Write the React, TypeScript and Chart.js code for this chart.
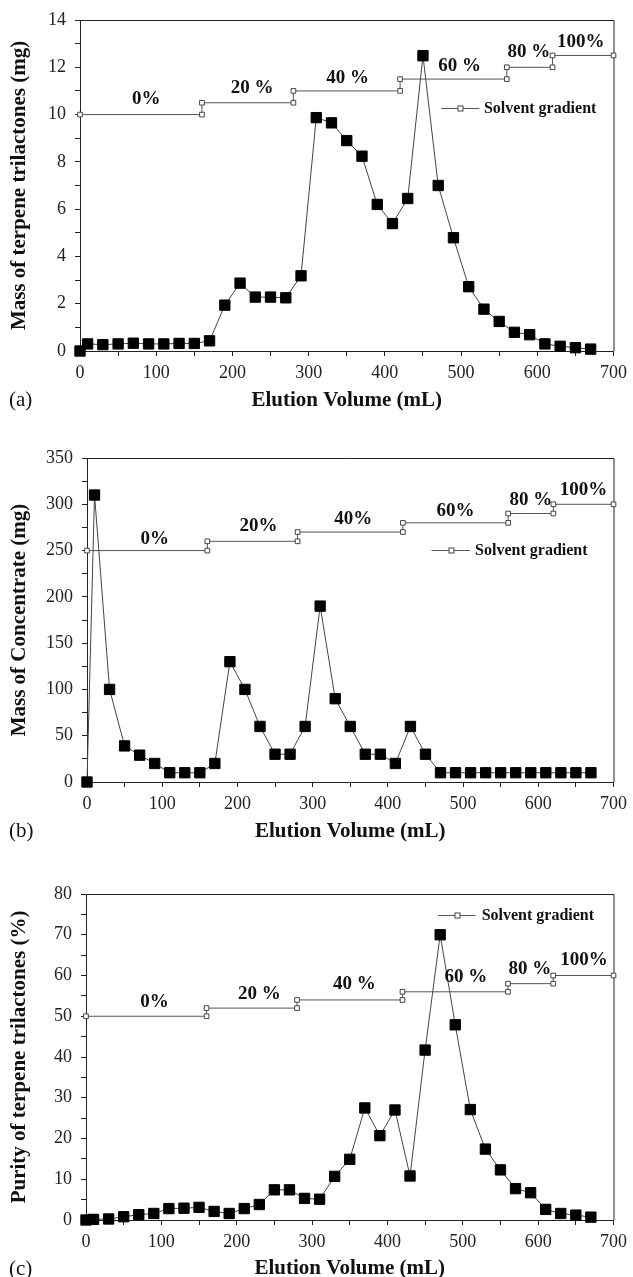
import React, { useEffect, useRef } from "react";
import { Chart, registerables } from "chart.js";

Chart.register(...registerables);

// ---------- data ----------
const volumes = [0, 10, 30, 50, 70, 90, 110, 130, 150, 170, 190, 210, 230, 250, 270, 290, 310, 330, 350, 370, 390, 410, 430, 450, 470, 490, 510, 530, 550, 570, 590, 610, 630, 650, 670];

const massTerpene = [0, 0.3, 0.27, 0.3, 0.33, 0.3, 0.3, 0.32, 0.32, 0.43, 1.94, 2.87, 2.28, 2.28, 2.25, 3.18, 9.87, 9.65, 8.9, 8.24, 6.2, 5.39, 6.45, 12.49, 7.0, 4.79, 2.72, 1.77, 1.25, 0.79, 0.69, 0.3, 0.2, 0.14, 0.08];

const massConcentrate = [0, 310, 100, 39, 29, 20, 10, 10, 10, 20, 130, 100, 60, 30, 30, 60, 190, 90, 60, 30, 30, 20, 60, 30, 10, 10, 10, 10, 10, 10, 10, 10, 10, 10, 10];

const purity = [0, 0.15, 0.25, 0.8, 1.3, 1.6, 2.8, 2.9, 3.1, 2.1, 1.6, 2.8, 3.8, 7.4, 7.4, 5.3, 5.1, 10.7, 14.9, 27.5, 20.7, 27.0, 10.8, 41.7, 70, 47.9, 27.1, 17.4, 12.3, 7.7, 6.7, 2.6, 1.6, 1.2, 0.7];

const gradientVolumes = [0, 160, 160, 280, 280, 420, 420, 560, 560, 620, 620, 700];
const gradientA = [10, 10, 10.5, 10.5, 11, 11, 11.5, 11.5, 12, 12, 12.5, 12.5];
const gradientB = [250, 250, 260, 260, 270, 270, 280, 280, 290, 290, 300, 300];
const gradientC = [50, 50, 52, 52, 54, 54, 56, 56, 58, 58, 60, 60];

const gradientLabelsA = ["0%", "20 %", "40 %", "60 %", "80 %", "100%"];
const gradientLabelsB = ["0%", "20%", "40%", "60%", "80 %", "100%"];
const gradientLabelsC = ["0%", "20 %", "40 %", "60 %", "80 %", "100%"];

const xTicks = [0, 100, 200, 300, 400, 500, 600, 700];
const legendText = "Solvent gradient";
const xTitle = "Elution Volume (mL)";

const SERIF = "'Liberation Serif', 'Times New Roman', serif";

type Panel = {
  letter: string;
  yTitle: string;
  values: number[];
  gradient: number[];
  labels: string[];
  labelPos: [number, number][];
  legend: { x1: number; x2: number; y: number; tx: number };
  yMax: number;
  yStep: number;
  top: number;
  height: number;
  chartTop: number;
  chartLeft: number;
  xBoxH: number;
  titlePad: number;
};

const panels: Panel[] = [
  {
    letter: "(a)",
    yTitle: "Mass of terpene trilactones (mg)",
    values: massTerpene,
    gradient: gradientA,
    labels: gradientLabelsA,
    labelPos: [[87, 10.66], [226, 11.13], [351, 11.55], [498, 12.04], [589, 12.63], [657, 13.06]],
    legend: { x1: 474, x2: 524, y: 10.28, tx: 530 },
    yMax: 14,
    yStep: 2,
    top: 0,
    height: 420,
    chartTop: 20,
    chartLeft: 80,
    xBoxH: 69,
    titlePad: 6.4,
  },
  {
    letter: "(b)",
    yTitle: "Mass of Concentrate (mg)",
    values: massConcentrate,
    gradient: gradientB,
    labels: gradientLabelsB,
    labelPos: [[90, 262.6], [228, 276], [354, 284], [490, 292.4], [590, 305], [660, 315]],
    legend: { x1: 458, x2: 509, y: 251, tx: 516 },
    yMax: 350,
    yStep: 50,
    top: 420,
    height: 430,
    chartTop: 38,
    chartLeft: 87,
    xBoxH: 68,
    titlePad: 5.4,
  },
  {
    letter: "(c)",
    yTitle: "Purity of terpene trilactones (%)",
    values: purity,
    gradient: gradientC,
    labels: gradientLabelsC,
    labelPos: [[91, 53.4], [230, 55.5], [356, 57.8], [504, 59.6], [589, 61.5], [661, 63.7]],
    legend: { x1: 467, x2: 517, y: 74.8, tx: 525 },
    yMax: 80,
    yStep: 10,
    top: 850,
    height: 440,
    chartTop: 44,
    chartLeft: 86,
    xBoxH: 70,
    titlePad: 8.4,
  },
];

function makeAnnotPlugin(p: Panel) {
  return {
    id: "annot" + p.letter,
    beforeDatasetsDraw(chart: any) {
      const { ctx, chartArea } = chart;
      ctx.save();
      ctx.strokeStyle = "#222";
      ctx.lineWidth = 1;
      ctx.beginPath();
      ctx.moveTo(chartArea.left, chartArea.top + 0.5);
      ctx.lineTo(chartArea.right + 0.5, chartArea.top + 0.5);
      ctx.lineTo(chartArea.right + 0.5, chartArea.bottom);
      ctx.stroke();
      ctx.restore();
    },
    afterDatasetsDraw(chart: any) {
      const { ctx, chartArea } = chart;
      const xs = chart.scales.x;
      const ys = chart.scales.y;
      ctx.save();
      // gradient percentage labels
      ctx.fillStyle = "#111";
      ctx.font = `bold 19px ${SERIF}`;
      ctx.textAlign = "center";
      ctx.textBaseline = "middle";
      p.labels.forEach((t, i) => {
        const [vx, vy] = p.labelPos[i];
        ctx.fillText(t, xs.getPixelForValue(vx), ys.getPixelForValue(vy));
      });
      // legend
      const lx1 = xs.getPixelForValue(p.legend.x1);
      const lx2 = xs.getPixelForValue(p.legend.x2);
      const ly = Math.round(ys.getPixelForValue(p.legend.y)) + 0.5;
      ctx.strokeStyle = "#555";
      ctx.lineWidth = 1;
      ctx.beginPath();
      ctx.moveTo(lx1, ly);
      ctx.lineTo(lx2, ly);
      ctx.stroke();
      const mx = Math.round((lx1 + lx2) / 2) + 0.5;
      ctx.fillStyle = "#fff";
      ctx.fillRect(mx - 2.5, ly - 2.5, 5, 5);
      ctx.strokeStyle = "#444";
      ctx.strokeRect(mx - 2.5, ly - 2.5, 5, 5);
      ctx.fillStyle = "#111";
      ctx.font = `bold 16px ${SERIF}`;
      ctx.textAlign = "left";
      ctx.fillText(legendText, xs.getPixelForValue(p.legend.tx), ly);
      // panel letter
      ctx.font = `21px ${SERIF}`;
      ctx.textAlign = "left";
      ctx.fillText(p.letter, 9, chartArea.bottom + 49);
      ctx.restore();
    },
  };
}

function PanelChart({ p }: { p: Panel }) {
  const ref = useRef<HTMLCanvasElement | null>(null);
  useEffect(() => {
    if (!ref.current) return;
    const isMajorY = (v: number) => Math.abs(v / p.yStep - Math.round(v / p.yStep)) < 1e-6;
    const chart = new Chart(ref.current, {
      type: "line",
      data: {
        datasets: [
          {
            label: "data",
            data: volumes.map((x, i) => ({ x, y: p.values[i] })),
            borderColor: "#444",
            borderWidth: 1,
            pointStyle: "rect",
            pointRadius: 7.3,
            pointBackgroundColor: "#000",
            pointBorderColor: "#000",
            pointBorderWidth: 1,
            tension: 0,
            clip: false,
            order: 0,
          } as any,
          {
            label: legendText,
            data: gradientVolumes.map((x, i) => ({ x, y: p.gradient[i] })),
            borderColor: "#555",
            borderWidth: 1,
            pointStyle: "rect",
            pointRadius: 3.3,
            pointBackgroundColor: "#fff",
            pointBorderColor: "#444",
            pointBorderWidth: 1,
            tension: 0,
            clip: false,
            order: 1,
          } as any,
        ],
      },
      options: {
        responsive: false,
        maintainAspectRatio: false,
        animation: false,
        events: [],
        layout: { padding: { left: 0, top: p.chartTop, right: 16, bottom: 0 } },
        plugins: { legend: { display: false }, tooltip: { enabled: false } },
        scales: {
          x: {
            type: "linear",
            position: "bottom",
            min: 0,
            max: 700,
            afterFit: (s: any) => {
              s.height = p.xBoxH;
            },
            afterBuildTicks: (s: any) => {
              const t: any[] = [];
              for (let v = 0; v <= 700; v += 50) t.push({ value: v });
              s.ticks = t;
            },
            ticks: {
              autoSkip: false,
              maxRotation: 0,
              padding: 6,
              color: "#222",
              font: { family: SERIF, size: 18 },
              callback: (v: any) => (xTicks.includes(Number(v)) ? String(v) : ""),
            },
            grid: { drawOnChartArea: false, drawTicks: true, tickLength: 5, color: "#222", lineWidth: 1 },
            border: { display: true, color: "#222", width: 1 },
            title: {
              display: true,
              text: xTitle,
              color: "#111",
              font: { family: SERIF, size: 21, weight: "bold" },
              padding: { top: 0, bottom: p.titlePad },
            },
          },
          y: {
            type: "linear",
            min: 0,
            max: p.yMax,
            afterFit: (s: any) => {
              s.width = p.chartLeft;
            },
            ticks: {
              stepSize: p.yStep / 2,
              autoSkip: false,
              padding: 9,
              color: "#222",
              font: { family: SERIF, size: 18 },
              callback: (v: any) => (isMajorY(Number(v)) ? String(v) : ""),
            },
            grid: { drawOnChartArea: false, drawTicks: true, tickLength: 5, color: "#222", lineWidth: 1 },
            border: { display: true, color: "#222", width: 1 },
            title: {
              display: true,
              text: p.yTitle,
              color: "#111",
              font: { family: SERIF, size: 21, weight: "bold" },
              padding: { top: 7.4, bottom: 0 },
            },
          },
        },
      } as any,
      plugins: [makeAnnotPlugin(p)],
    });
    return () => chart.destroy();
  }, [p]);
  return (
    <canvas
      ref={ref}
      width={633}
      height={p.height}
      style={{ position: "absolute", left: 0, top: p.top, width: 633, height: p.height, display: "block" }}
    />
  );
}

export default function App() {
  useEffect(() => {
    document.body.style.overflow = "hidden";
  }, []);
  return (
    <div
      style={{
        position: "fixed",
        left: 0,
        top: 0,
        width: 633,
        height: 1277,
        overflow: "hidden",
        background: "#fff",
      }}
    >
      {panels.map((p) => (
        <PanelChart key={p.letter} p={p} />
      ))}
    </div>
  );
}
